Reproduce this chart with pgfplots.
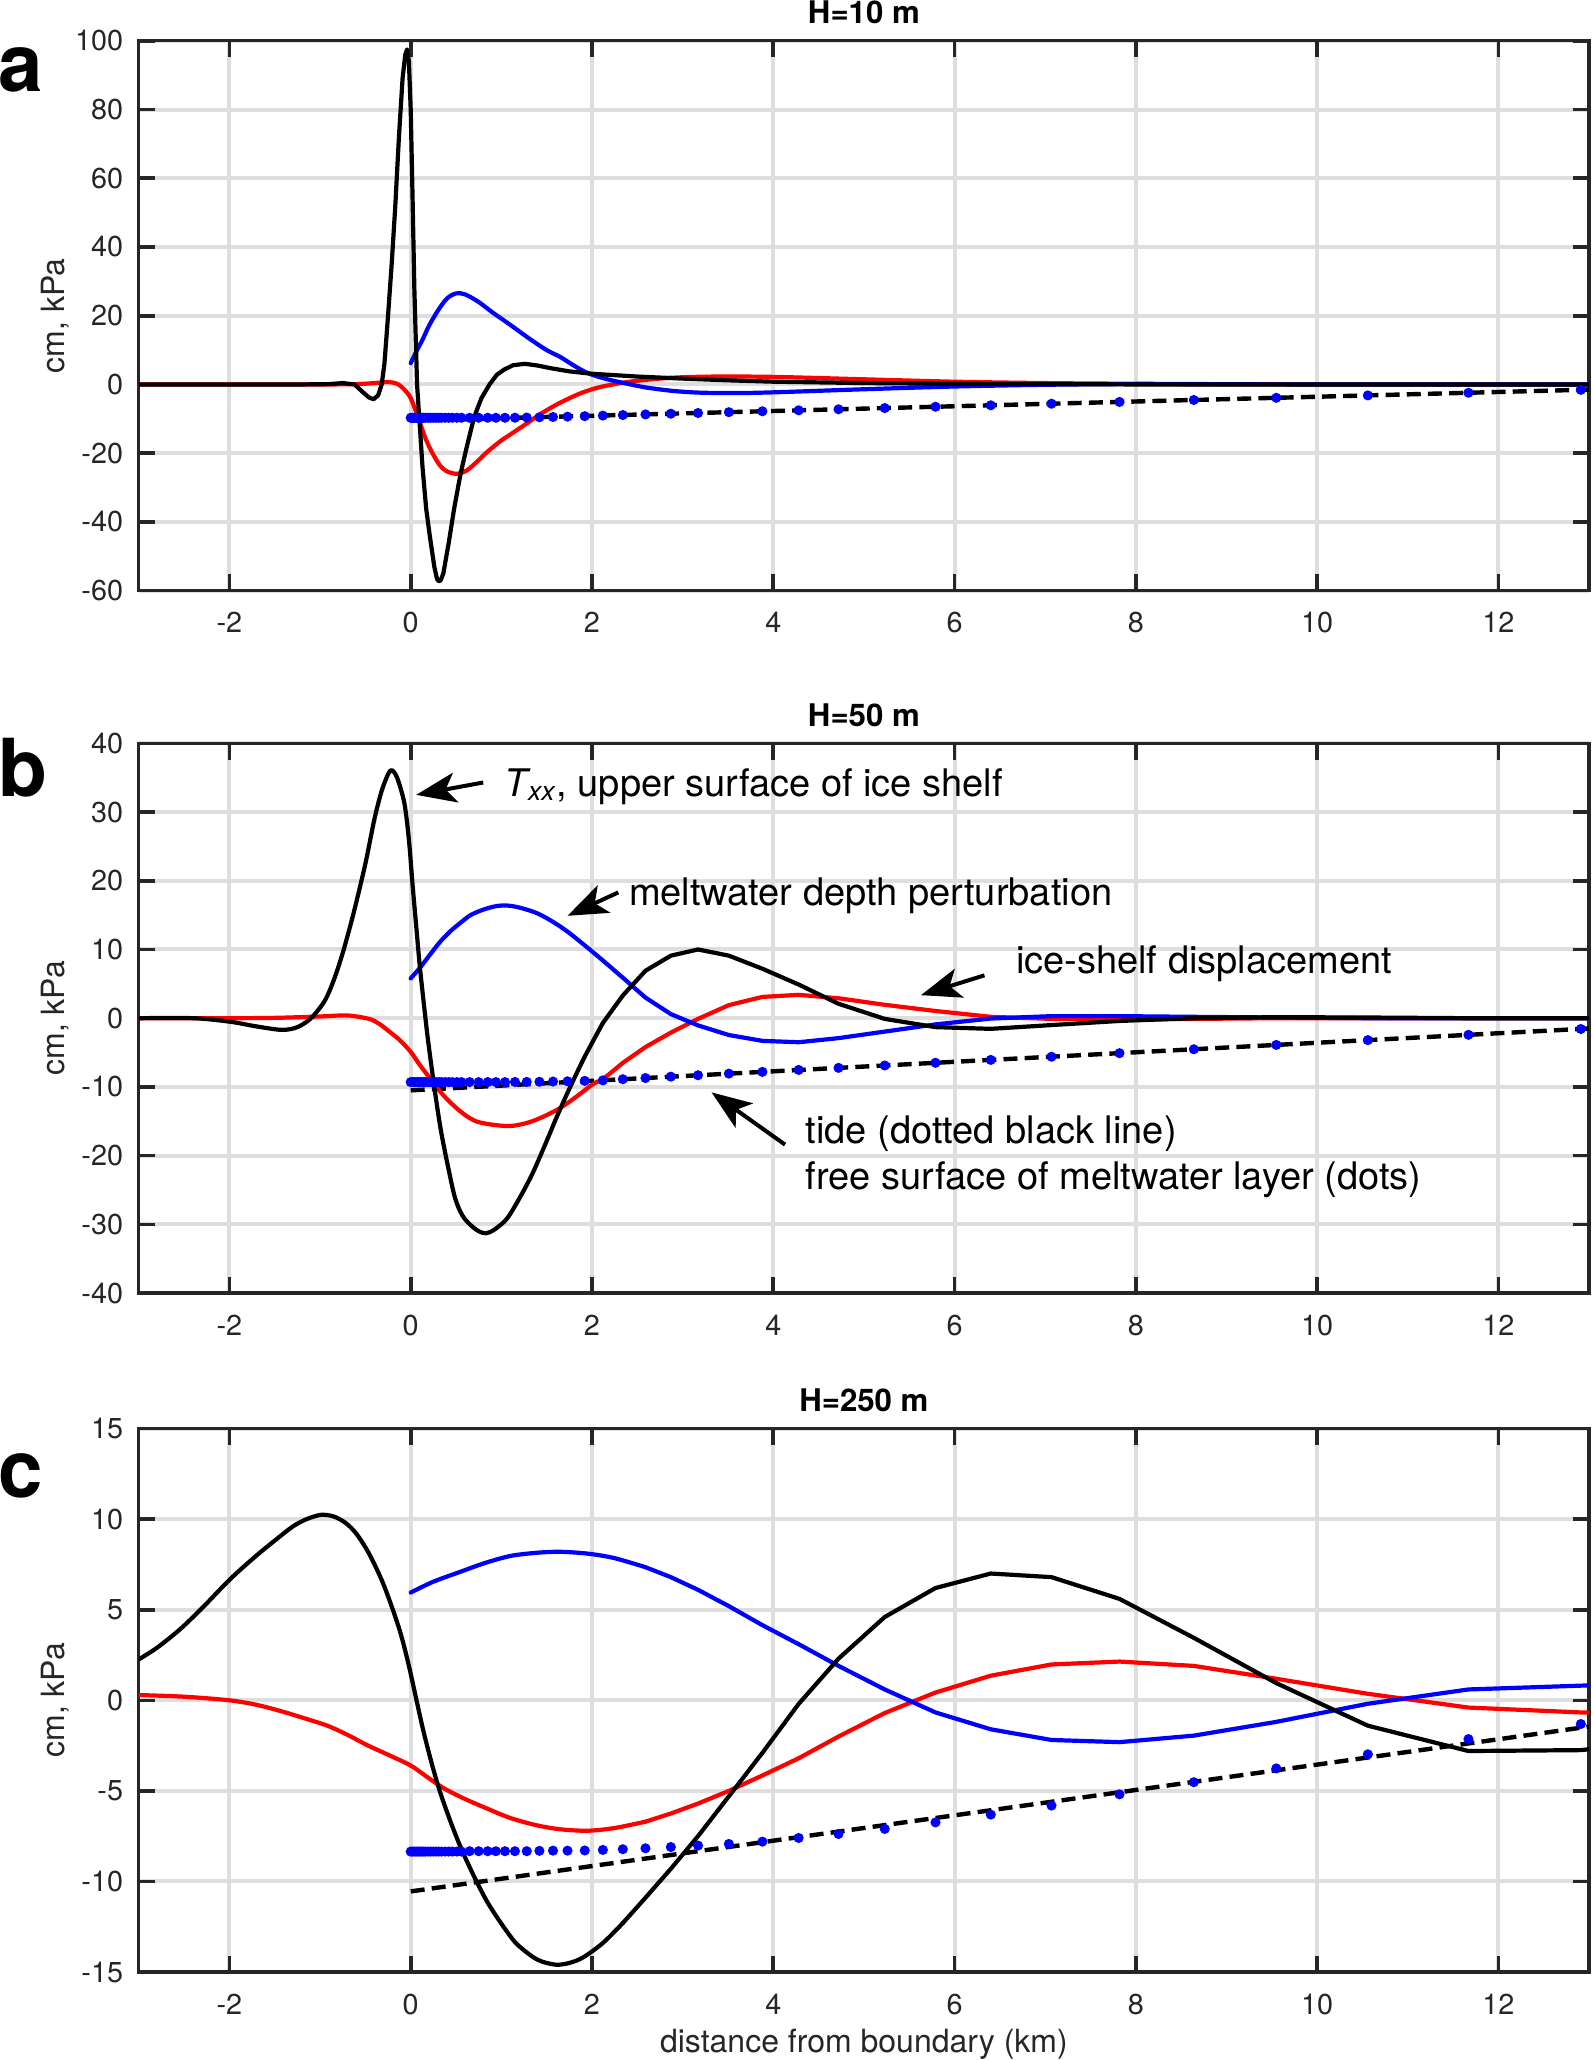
\documentclass[border=0pt]{standalone}
\usepackage{pgfplots}
\pgfplotsset{compat=1.18}
\usepackage{fontspec}
\setmainfont{TeX Gyre Heros}
\usetikzlibrary{arrows.meta}
\definecolor{axgray}{RGB}{38,38,38}
\definecolor{gridgray}{RGB}{222,222,222}
\definecolor{mblue}{RGB}{0,0,255}
\definecolor{mred}{RGB}{255,0,0}

\pgfplotsset{
 panel/.style={
  scale only axis, anchor=north west, width=362.55pt,
  xmin=-3, xmax=13, xtick={-2,0,2,4,6,8,10,12},
  grid=major, major grid style={gridgray, line width=1pt},
  axis line style={axgray, line width=0.8pt},
  tick style={axgray, line width=0.9pt},
  major tick length=4.1pt,
  tick align=inside,
  tick label style={font=\fontsize{7.2}{8.6}\selectfont, text=axgray},
  /pgf/number format/assume math mode=true,
  xticklabel style={yshift=-1.9pt},
  yticklabel style={xshift=-0.4pt},
  every axis y label/.style={at={(axis description cs:-0.0578,0.5)}, rotate=90, anchor=center, font=\fontsize{8}{9.6}\selectfont, text=axgray},
  every axis x label/.style={at={(axis description cs:0.5,0)}, anchor=base, yshift=-20pt, font=\fontsize{8}{9.6}\selectfont, text=axgray},
  every axis title/.style={at={(axis description cs:0.5,1)}, anchor=base, yshift=4.3pt, font=\fontsize{7.8}{9}\selectfont\bfseries},
  ylabel={cm, kPa},
 },
 blk/.style={black, line width=1.05pt, no marks, line join=round, line cap=round},
 rd/.style={mred, line width=1.05pt, no marks, line join=round, line cap=round},
 bl/.style={mblue, line width=1.05pt, no marks, line join=round, line cap=round},
 sm/.style={smooth, tension=0.5},
 tide/.style={black, line width=1.1pt, no marks, dash pattern=on 3.5pt off 1.8pt},
 dots/.style={only marks, mark=*, mark size=1.05pt, mblue, mark options={draw=mblue, fill=mblue}},
}

\begin{document}
\begin{tikzpicture}
\useasboundingbox (0,0) rectangle (398.25pt,-515pt);

% ---------------- panel a ----------------
\begin{axis}[panel, at={(34.7pt,-10.2pt)}, height=137.45pt,
  ymin=-60, ymax=100, ytick={-60,-40,...,100}, title={H=10 m}]
\addplot[tide] coordinates {(0,-10.5) (13,-1.5)};
\addplot[dots] coordinates {
(0,-9.7) (0.02,-9.7) (0.04,-9.7) (0.06,-9.7) (0.08,-9.7) (0.10,-9.7) (0.12,-9.7) (0.14,-9.7) (0.16,-9.7) (0.19,-9.7)
(0.22,-9.7) (0.25,-9.7) (0.28,-9.7) (0.31,-9.7) (0.34,-9.7) (0.38,-9.7) (0.42,-9.7) (0.46,-9.7) (0.51,-9.7) (0.56,-9.7)
(0.65,-9.7) (0.75,-9.7) (0.85,-9.7) (0.94,-9.7) (1.04,-9.7) (1.15,-9.68) (1.28,-9.62) (1.42,-9.55) (1.57,-9.47) (1.73,-9.37)
(1.92,-9.23) (2.12,-9.07) (2.34,-8.9) (2.59,-8.72) (2.87,-8.52) (3.17,-8.31) (3.51,-8.07) (3.88,-7.81) (4.28,-7.53) (4.72,-7.23)
(5.23,-6.88) (5.79,-6.49) (6.40,-6.07) (7.07,-5.61) (7.82,-5.09) (8.64,-4.52) (9.55,-3.89) (10.56,-3.19) (11.67,-2.42) (12.91,-1.57)};
\addplot[rd, sm] coordinates {
(-3,0) (-1,0) (-0.6,0.1) (-0.4,0.4) (-0.25,0.7) (-0.15,0.2) (-0.07,-1.5) (0,-4) (0.08,-9.5) (0.16,-15.5)
(0.23,-19.5) (0.32,-23.5) (0.40,-25.3) (0.51,-26) (0.62,-25) (0.73,-22.5) (0.85,-19.5) (1.0,-16.3) (1.12,-14.2) (1.3,-11)
(1.45,-8.3) (1.65,-5.3) (1.89,-2.4) (2.1,-0.7) (2.39,0.7) (2.7,1.6) (3.0,2.1) (3.4,2.3) (4.0,2.2) (5,1.5)
(6,0.8) (7,0.4) (8,0.2) (10,0) (13,0)};
\addplot[bl, sm] coordinates {
(0,6.2) (0.06,9.5) (0.13,13) (0.2,17) (0.3,21.5) (0.4,25) (0.5,26.5) (0.6,26.2) (0.75,24) (0.9,21)
(1.09,17.5) (1.3,13.5) (1.5,10) (1.65,8) (1.8,5.5) (1.93,3.6) (2.05,2.4) (2.2,1.3) (2.39,0.2) (2.6,-0.9)
(2.9,-1.9) (3.2,-2.4) (3.6,-2.5) (4.0,-2.3) (5,-1.4) (6,-0.6) (7,-0.1) (8,0.1) (10,0) (13,0)};
\addplot[blk] coordinates {
(-3,0) (-1.2,0) (-0.9,0.1) (-0.75,0.4) (-0.62,0) (-0.53,-2.2) (-0.46,-3.8) (-0.41,-4.3) (-0.36,-3.2) (-0.32,0)
(-0.29,6) (-0.25,20) (-0.21,35) (-0.17,52) (-0.13,72) (-0.09,89) (-0.06,96) (-0.04,97.5) (-0.02,94) (0.0,80)
(0.02,55) (0.04,28) (0.07,0) (0.10,-12) (0.13,-24) (0.17,-36) (0.21,-44) (0.26,-53) (0.29,-56.6) (0.31,-57.3) (0.33,-57) (0.36,-55)
(0.42,-46) (0.48,-36) (0.55,-26) (0.62,-18) (0.70,-9.5) (0.78,-4) (0.87,0) (0.95,2.8) (1.03,4.3) (1.13,5.6)
(1.26,6.0) (1.4,5.5) (1.55,4.7) (1.75,3.8) (2.0,3.1) (2.5,2.3) (3,1.7) (3.5,1.2) (4,0.8) (5,0.4)
(6,0.2) (7,0.1) (8,0) (13,0)};
\end{axis}

% ---------------- panel b ----------------
\begin{axis}[panel, at={(34.7pt,-185.83pt)}, height=137.43pt,
  ymin=-40, ymax=40, ytick={-40,-30,...,40}, title={H=50 m}]
\addplot[tide] coordinates {(0,-10.5) (13,-1.5)};
\addplot[dots] coordinates {
(0,-9.3) (0.02,-9.3) (0.04,-9.3) (0.06,-9.3) (0.08,-9.3) (0.10,-9.3) (0.12,-9.3) (0.14,-9.3) (0.16,-9.3) (0.19,-9.3)
(0.22,-9.3) (0.25,-9.3) (0.28,-9.3) (0.31,-9.3) (0.34,-9.3) (0.38,-9.3) (0.42,-9.3) (0.46,-9.3) (0.51,-9.3) (0.56,-9.3)
(0.65,-9.3) (0.75,-9.3) (0.85,-9.3) (0.94,-9.3) (1.04,-9.3) (1.15,-9.28) (1.28,-9.27) (1.42,-9.25) (1.57,-9.22) (1.73,-9.18)
(1.92,-9.12) (2.12,-9.05) (2.34,-8.88) (2.59,-8.71) (2.87,-8.51) (3.17,-8.30) (3.51,-8.07) (3.88,-7.81) (4.28,-7.53) (4.72,-7.23)
(5.23,-6.88) (5.79,-6.49) (6.40,-6.07) (7.07,-5.61) (7.82,-5.09) (8.64,-4.52) (9.55,-3.89) (10.56,-3.19) (11.67,-2.42) (12.91,-1.57)};
\addplot[rd, sm] coordinates {
(-3,0) (-2,0) (-1.5,0.05) (-1.0,0.25) (-0.7,0.4) (-0.46,-0.1) (-0.35,-0.8) (-0.24,-1.9) (-0.12,-3.2) (0,-4.9)
(0.1,-6.8) (0.21,-8.7) (0.32,-10.6) (0.44,-12.3) (0.58,-13.9) (0.72,-15.0) (0.9,-15.5) (1.08,-15.7) (1.2,-15.5) (1.34,-15.0)
(1.5,-14.1) (1.67,-12.9) (1.85,-11.2) (2.01,-9.6) (2.12,-8.9)};
\addplot[rd] coordinates {
(2.12,-8.9) (2.34,-6.5) (2.59,-4.2) (2.87,-2.1) (3.17,-0.1) (3.51,1.9)
(3.88,3.1) (4.28,3.4) (4.72,2.9) (5.23,1.95) (5.79,1.05) (6.40,0.2) (7.07,-0.1) (7.82,-0.2) (8.64,-0.1) (9.55,0) (13,0)};
\addplot[bl, sm] coordinates {
(0,5.8) (0.1,7.3) (0.21,9.2) (0.33,11.2) (0.45,12.8) (0.56,14.0) (0.66,15.0) (0.8,15.8) (0.94,16.3) (1.06,16.4)
(1.2,16.1) (1.39,15.3) (1.56,14.1) (1.73,12.6) (1.92,10.6) (2.12,8.4)};
\addplot[bl] coordinates {
(2.12,8.4) (2.34,5.9) (2.59,3.0) (2.87,0.6) (3.17,-1.05)
(3.51,-2.45) (3.88,-3.3) (4.28,-3.5) (4.72,-2.9) (5.23,-1.95) (5.79,-0.9) (6.40,-0.05) (7.07,0.3) (7.82,0.3) (8.64,0.2)
(9.55,0.1) (10.56,0) (13,0)};
\addplot[blk, sm] coordinates {
(-3,0) (-2.4,0) (-2.0,-0.5) (-1.7,-1.2) (-1.42,-1.7) (-1.25,-1.3) (-1.1,0) (-0.95,2.5) (-0.85,5.5) (-0.75,9.5)
(-0.63,15.3) (-0.5,22.5) (-0.4,29) (-0.32,33.1) (-0.25,35.5) (-0.21,36.1) (-0.15,35) (-0.07,31.3) (-0.02,26) (0.02,19.5)
(0.06,13.5) (0.10,7.6) (0.15,1.5) (0.19,-3.1) (0.26,-10) (0.33,-16.1) (0.41,-21.5) (0.49,-26.2) (0.57,-28.7) (0.66,-30.1)
(0.75,-31) (0.83,-31.3) (0.92,-30.8) (1.06,-29.2) (1.2,-26.2) (1.34,-22.7) (1.48,-18.5) (1.62,-14.1) (1.76,-10) (1.92,-5.6)
(2.12,-0.7)};
\addplot[blk] coordinates {
(2.12,-0.7) (2.34,3.3) (2.59,6.9) (2.87,9.1) (3.17,10.0) (3.51,9.1) (3.88,7.2) (4.28,4.9) (4.72,2.1) (5.23,-0.1)
(5.79,-1.3) (6.40,-1.55) (7.07,-1.0) (7.82,-0.4) (8.64,0) (9.55,0.15) (10.56,0.1) (11.67,0) (13,0)};
% annotations
\draw[line width=1pt, -{Stealth[length=10pt, width=7.5pt, inset=2.5pt]}] (axis cs:0.80,34.3) -- (axis cs:0.06,32.5);
\draw[line width=1pt, -{Stealth[length=10pt, width=7.5pt, inset=2.5pt]}] (axis cs:2.29,18.3) -- (axis cs:1.73,14.9);
\draw[line width=1pt, -{Stealth[length=10pt, width=7.5pt, inset=2.5pt]}] (axis cs:6.33,6.24) -- (axis cs:5.63,3.35);
\draw[line width=1pt, -{Stealth[length=10pt, width=7.5pt, inset=2.5pt]}] (axis cs:4.13,-18.4) -- (axis cs:3.32,-10.8);
\node[anchor=base west, inner sep=0pt, font=\fontsize{9.5}{11.4}\selectfont] at (axis cs:1.03,32.2) {{\itshape T\textsubscript{xx}}, upper surface of ice shelf};
\node[anchor=base west, inner sep=0pt, font=\fontsize{9.5}{11.4}\selectfont] at (axis cs:2.40,16.4) {meltwater depth perturbation};
\node[anchor=base west, inner sep=0pt, font=\fontsize{9.5}{11.4}\selectfont] at (axis cs:6.67,6.57) {ice-shelf displacement};
\node[anchor=base west, inner sep=0pt, font=\fontsize{9.5}{11.4}\selectfont] at (axis cs:4.35,-18.3) {tide (dotted black line)};
\node[anchor=base west, inner sep=0pt, font=\fontsize{9.5}{11.4}\selectfont] at (axis cs:4.35,-24.96) {free surface of meltwater layer (dots)};
\end{axis}

% ---------------- panel c ----------------
\begin{axis}[panel, at={(34.7pt,-357.15pt)}, height=135.85pt,
  ymin=-15, ymax=15, ytick={-15,-10,...,15}, title={H=250 m},
  xlabel={distance from boundary (km)}]
\addplot[tide] coordinates {(0,-10.55) (13,-1.45)};
\addplot[dots] coordinates {
(0,-8.35) (0.02,-8.35) (0.04,-8.35) (0.06,-8.35) (0.08,-8.35) (0.10,-8.35) (0.12,-8.35) (0.14,-8.35) (0.16,-8.35) (0.19,-8.35)
(0.22,-8.35) (0.25,-8.35) (0.28,-8.35) (0.31,-8.35) (0.34,-8.35) (0.38,-8.35) (0.42,-8.35) (0.46,-8.35) (0.51,-8.35) (0.56,-8.35)
(0.65,-8.33) (0.75,-8.33) (0.85,-8.33) (0.94,-8.33) (1.04,-8.33) (1.15,-8.33) (1.28,-8.33) (1.42,-8.31) (1.57,-8.30) (1.73,-8.30)
(1.92,-8.29) (2.12,-8.26) (2.34,-8.22) (2.59,-8.17) (2.87,-8.10) (3.17,-8.02) (3.51,-7.93) (3.88,-7.8) (4.28,-7.6) (4.72,-7.38)
(5.23,-7.1) (5.79,-6.74) (6.40,-6.31) (7.07,-5.81) (7.82,-5.19) (8.64,-4.52) (9.55,-3.76) (10.56,-2.98) (11.67,-2.14) (12.91,-1.31)};
\addplot[rd, sm] coordinates {
(-3,0.29) (-2.5,0.2) (-2,0) (-1.7,-0.25) (-1.43,-0.6) (-1.2,-0.95) (-0.92,-1.4) (-0.7,-1.9) (-0.47,-2.5) (-0.23,-3.05)
(0,-3.6) (0.2,-4.3) (0.38,-4.9) (0.6,-5.45) (0.83,-5.95) (1.1,-6.5) (1.39,-6.9) (1.65,-7.12) (1.95,-7.2) (2.25,-7.05)
(2.59,-6.7)};
\addplot[rd] coordinates {
(2.59,-6.7) (2.87,-6.25) (3.17,-5.7) (3.51,-5.0) (3.88,-4.15) (4.28,-3.2) (4.72,-2.0) (5.23,-0.7) (5.79,0.43) (6.40,1.36)
(7.07,1.98) (7.82,2.14) (8.64,1.9) (9.55,1.19) (10.56,0.36) (11.67,-0.4) (12.91,-0.67) (13,-0.68)};
\addplot[bl, sm] coordinates {
(0,5.95) (0.25,6.55) (0.55,7.1) (0.83,7.6) (1.11,7.98) (1.4,8.15) (1.65,8.2) (1.95,8.1) (2.24,7.86) (2.59,7.35)};
\addplot[bl] coordinates {
(2.59,7.35) (2.87,6.8) (3.17,6.1) (3.51,5.2) (3.88,4.15) (4.28,3.1) (4.72,1.9) (5.23,0.6) (5.79,-0.67) (6.40,-1.6) (7.07,-2.19)
(7.82,-2.31) (8.64,-1.95) (9.55,-1.19) (10.56,-0.19) (11.67,0.6) (12.91,0.81) (13,0.82)};
\addplot[blk, sm] coordinates {
(-3,2.26) (-2.8,2.9) (-2.55,3.9) (-2.3,5.1) (-1.99,6.7) (-1.7,8.0) (-1.48,8.9) (-1.3,9.6) (-1.15,10.0) (-0.99,10.24)
(-0.85,10.15) (-0.72,9.8) (-0.6,9.2) (-0.46,8.1) (-0.30,6.4) (-0.13,4.0) (-0.02,1.9) (0.15,-1.9) (0.32,-5.0) (0.55,-8.1)
(0.83,-11.0) (1.11,-13.1) (1.25,-13.8) (1.39,-14.3) (1.5,-14.5) (1.62,-14.6) (1.75,-14.5) (1.90,-14.2) (2.12,-13.4) (2.34,-12.3)};
\addplot[blk] coordinates {
(2.34,-12.3) (2.59,-10.9) (2.87,-9.3) (3.17,-7.5) (3.51,-5.3) (3.88,-2.9) (4.28,-0.2)
(4.72,2.3) (5.23,4.6) (5.79,6.2) (6.40,7.0) (7.07,6.8) (7.82,5.6) (8.64,3.45) (9.55,0.95) (10.56,-1.4) (11.67,-2.8)
(12.91,-2.75) (13,-2.7)};
\end{axis}

% panel letters
\node[anchor=base west, inner sep=0pt, font=\fontsize{20}{24}\selectfont\bfseries] at (-0.5pt,-22.95pt) {a};
\node[anchor=base west, inner sep=0pt, font=\fontsize{20}{24}\selectfont\bfseries] at (-0.5pt,-199.1pt) {b};
\node[anchor=base west, inner sep=0pt, font=\fontsize{20}{24}\selectfont\bfseries] at (-0.5pt,-374.25pt) {c};
\end{tikzpicture}
\end{document}
